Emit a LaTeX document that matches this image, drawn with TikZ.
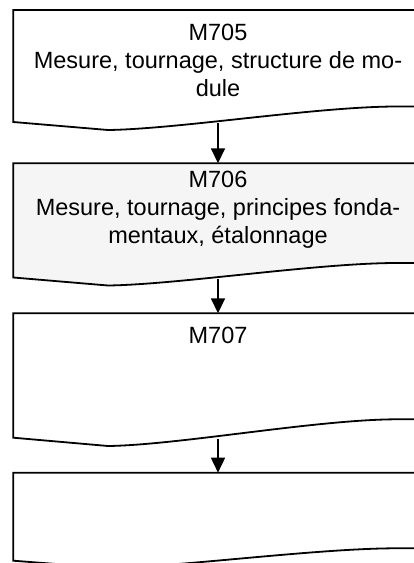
\documentclass[tikz,border=0pt]{standalone}
\usepackage{fontspec}
\setmainfont{Liberation Sans}
\usetikzlibrary{arrows.meta}
\definecolor{lightfill}{RGB}{245,245,245}
\begin{document}
\begin{tikzpicture}[x=1pt,y=-1pt,
  docbox/.style={draw=black,line width=1.8pt,line join=miter},
  boxtext/.style={anchor=base,align=center,inner sep=0pt,font=\fontsize{23.5}{28}\selectfont},
  flow/.style={draw=black,line width=1.6pt,-{Triangle[length=15pt,width=14pt]}}]
\useasboundingbox (0,0) rectangle (414,563);
\clip (0,0) rectangle (414,563);
% box 1
\path[docbox,fill=white] (13.3,10) -- (432,10) -- (432,106.5) -- (400,106.5)
  .. controls (320,106) and (180,129) .. (108,130) -- (13.3,122) -- cycle;
% box 2
\path[docbox,fill=lightfill] (13.3,163.3) -- (432,163.3) -- (432,263) -- (400,263)
  .. controls (320,262.5) and (180,284.5) .. (108,285.5) -- (13.3,277.5) -- cycle;
% box 3
\path[docbox,fill=white] (13.3,313.3) -- (432,313.3) -- (432,419.3) -- (400,419.3)
  .. controls (320,418.8) and (180,445) .. (108,446) -- (13.3,437.7) -- cycle;
% box 4
\path[docbox,fill=white] (13.3,472.7) -- (432,472.7) -- (432,548.3) -- (400,548.3)
  .. controls (320,547.8) and (180,567) .. (108,568) -- (13.3,560.7) -- cycle;
% texts (base anchor = baseline of the last line)
\node[boxtext] (n1) at (218,96.7) {M705\\Mesure, tournage, structure de mo-\\dule};
\node[boxtext] (n2) at (218,243) {M706\\Mesure, tournage, principes fonda-\\mentaux, étalonnage};
\node[boxtext] (n3) at (218,343.3) {M707};
% connector ends
\coordinate (b1) at (218,123.4);
\coordinate (t2) at (218,163.3);
\coordinate (b2) at (218,279.2);
\coordinate (t3) at (218,313.3);
\coordinate (b3) at (218,438.5);
\coordinate (t4) at (218,472.7);
\draw[flow] (b1) -- (t2);
\draw[flow] (b2) -- (t3);
\draw[flow] (b3) -- (t4);
\end{tikzpicture}
\end{document}
